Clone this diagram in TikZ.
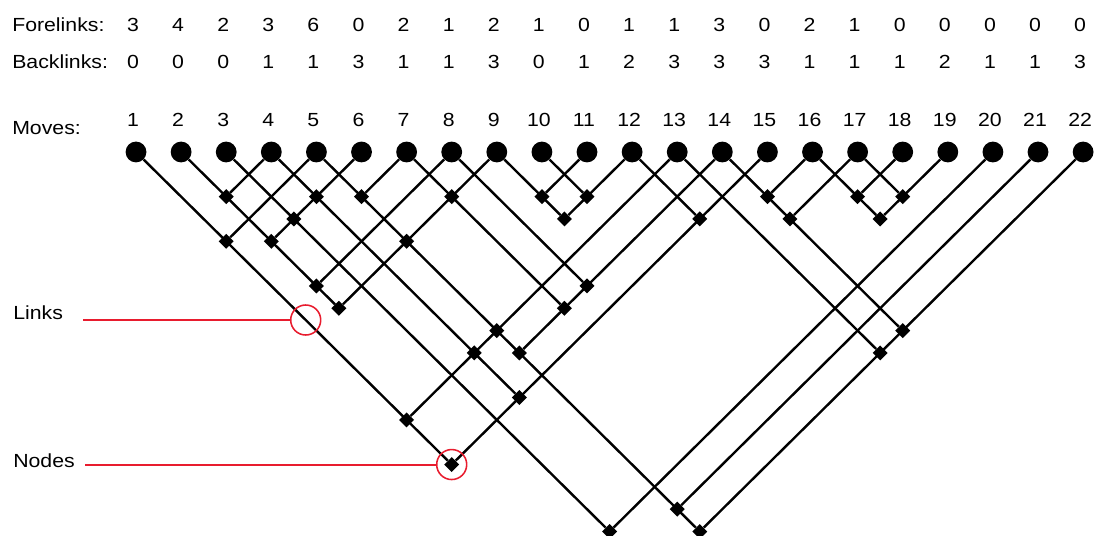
\documentclass[tikz,border=0pt]{standalone}
\usepackage{fontspec}
\newfontfamily\labelfont[FakeStretch=1.12]{Liberation Sans}
\usetikzlibrary{shapes,calc,positioning}
\definecolor{calloutred}{RGB}{232,28,46}

\begin{document}
\begin{tikzpicture}[x=0.025cm,y=-0.025cm,
	move/.style={circle,fill=black,inner sep=0pt,minimum size=0.52cm},
	linknode/.style={diamond,fill=black,inner sep=0pt,minimum size=0.38cm},
	linkline/.style={line width=1.7pt},
	txt/.style={font=\labelfont\fontsize{13.5}{16}\selectfont,inner sep=0pt},
	callout/.style={draw=calloutred,line width=1.4pt},
	ring/.style={circle,draw=calloutred,line width=1.1pt,minimum size=0.75cm,inner sep=0pt}]
	\useasboundingbox (0,0) rectangle (1095,536);

	\node[txt,anchor=base west] (forelabel) at (12,32) {Forelinks:};
	\node[txt,anchor=base west] (backlabel) at (12,69) {Backlinks:};
	\node[txt,anchor=base west] (movelabel) at (12,135) {Moves:};
	\foreach \f [count=\i] in {3,4,2,3,6,0,2,1,2,1,0,1,1,3,0,2,1,0,0,0,0,0} {
		\node[txt,anchor=base] (f\i) at ({133+45.1*(\i-1)},32) {\f};
	}
	\foreach \b [count=\i] in {0,0,0,1,1,3,1,1,3,0,1,2,3,3,3,1,1,1,2,1,1,3} {
		\node[txt,anchor=base] (b\i) at ({133+45.1*(\i-1)},69) {\b};
	}
	\foreach \i in {1,...,22} {
		\node[txt,anchor=base] (n\i) at ({133+45.1*(\i-1)},127) {\i};
		\node[move] (m\i) at ({136+45.1*(\i-1)},152) {};
	}

	\foreach \a/\b in {1/5,1/13,1/15,2/4,2/6,2/8,2/9,3/6,3/20,4/6,4/13,4/15,5/7,5/9,5/13,5/14,5/21,5/22,
		7/9,7/14,8/14,9/11,9/12,10/12,12/15,13/22,14/16,14/17,14/22,16/18,16/19,17/19} {
		\pgfmathsetmacro\drop{0.99*(\b-\a)*22.55}
		\node[linknode] (l\a-\b) at ($(m\a)!0.5!(m\b)+(0,\drop)$) {};
	}
	\foreach \a/\b in {1/15,2/9,3/20,4/15,5/22,7/14,8/14,9/12,10/12,12/15,13/22,14/22,16/19,17/19} {
		\draw[linkline] (m\a) -- (l\a-\b);
	}
	\foreach \a/\b in {2/4,1/5,2/6,5/7,2/8,2/9,9/11,9/12,1/13,5/14,1/15,14/16,14/17,16/18,16/19,3/20,5/21,5/22} {
		\draw[linkline] (m\b) -- (l\a-\b);
	}

	\path (m1) -- (l1-15) coordinate[pos=0.533] (spot);
	\node[ring] (linkring) at (spot) {};
	\node[ring] (nodering) at (l1-15) {};
	\node[txt,anchor=base west] (linkslabel) at (13,320) {Links};
	\node[txt,anchor=base west] (nodeslabel) at (13,467) {Nodes};
	\draw[callout,shorten <=0.5cm] (linkslabel.east |- linkring.west) -- (linkring.west);
	\draw[callout,shorten <=0.25cm] (nodeslabel.east |- nodering.west) -- (nodering.west);
\end{tikzpicture}
\end{document}
